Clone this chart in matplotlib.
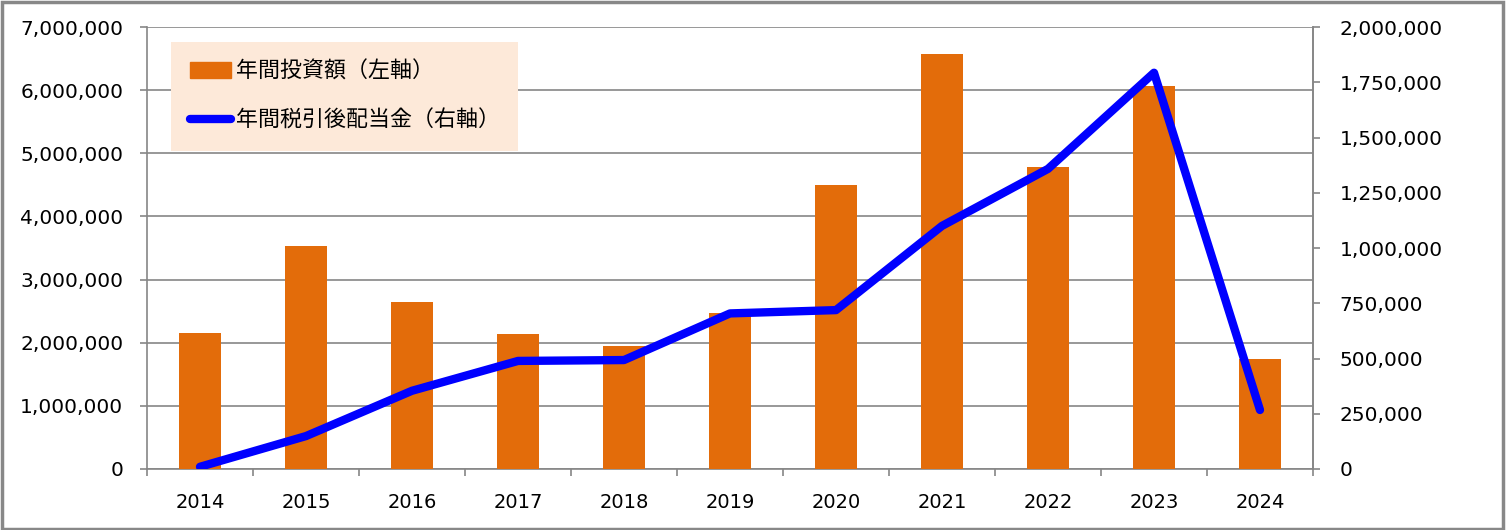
import numpy as np
import matplotlib
matplotlib.use('Agg')
import matplotlib.pyplot as plt
from matplotlib.ticker import FuncFormatter, MultipleLocator, FixedLocator
from matplotlib.patches import Rectangle
from matplotlib.lines import Line2D

plt.rcParams['font.family'] = ['DejaVu Sans', 'Noto Sans CJK JP']

years = ['2014', '2015', '2016', '2017', '2018', '2019', '2020', '2021', '2022', '2023', '2024']
invest = [2150000, 3530000, 2645000, 2140000, 1950000, 2470000, 4500000, 6570000, 4780000, 6070000, 1740000]
dividend = [10000, 149000, 354000, 489000, 493000, 704000, 719000, 1100000, 1358000, 1793000, 267000]
label_bar = '年間投資額（左軸）'
label_line = '年間税引後配当金（右軸）'

bar_color = '#E36C0A'
line_color = '#0000FF'
grid_color = '#868686'

def main():
    fig = plt.figure(figsize=(15.06, 5.30), dpi=100)
    ax = fig.add_axes([147 / 1506, 61 / 530, 1166 / 1506, 442 / 530])
    x = np.arange(len(years))

    ax.bar(x, invest, width=0.405, color=bar_color, zorder=3)
    ax.set_xlim(-0.5, len(years) - 0.5)
    ax.set_ylim(0, 7000000)
    ax.yaxis.set_major_locator(MultipleLocator(1000000))
    ax.yaxis.set_major_formatter(FuncFormatter(lambda v, p: '{:,.0f}'.format(v)))
    ax.grid(axis='y', color=grid_color, linewidth=1.2, zorder=0)
    ax.set_axisbelow(True)

    ax.set_xticks(x)
    ax.set_xticklabels(years)
    ax.xaxis.set_minor_locator(FixedLocator(np.arange(-0.5, len(years), 1.0)))
    ax.tick_params(axis='x', which='major', length=0, pad=17, labelsize=14)
    ax.tick_params(axis='x', which='minor', length=5, color=grid_color, width=1.2)
    ax.tick_params(axis='y', length=5, color=grid_color, width=1.2, labelsize=14.5, pad=12)

    for s in ['left', 'bottom', 'right']:
        ax.spines[s].set_color(grid_color)
        ax.spines[s].set_linewidth(1.2)
    ax.spines['top'].set_visible(False)

    ax2 = ax.twinx()
    ax2.plot(x, dividend, color=line_color, linewidth=6, solid_capstyle='round',
             solid_joinstyle='round', zorder=4)
    ax2.set_ylim(0, 2000000)
    ax2.yaxis.set_major_locator(MultipleLocator(250000))
    ax2.yaxis.set_major_formatter(FuncFormatter(lambda v, p: '{:,.0f}'.format(v)))
    ax2.tick_params(axis='y', length=5, color=grid_color, width=1.2, labelsize=14.5, pad=14)
    for s in ['left', 'bottom', 'top']:
        ax2.spines[s].set_visible(False)
    ax2.spines['right'].set_color(grid_color)
    ax2.spines['right'].set_linewidth(1.2)

    handles = [Rectangle((0, 0), 1, 1, color=bar_color),
               Line2D([0], [0], color=line_color, linewidth=6, solid_capstyle='round')]
    leg = ax2.legend(handles, [label_bar, label_line], loc='upper left',
                     bbox_to_anchor=(0.0206, 0.966), borderaxespad=0,
                     frameon=True, fancybox=False, framealpha=1,
                     facecolor='#FDE9D9', edgecolor='none',
                     prop={'family': ['Noto Sans CJK JP'], 'size': 15.8},
                     handlelength=1.9, handleheight=0.7, handletextpad=0.2,
                     labelspacing=1.25, borderpad=0.85)
    leg.set_zorder(10)

    fig.patches.append(Rectangle((0.001, 0.002), 0.997, 0.995, transform=fig.transFigure,
                                 fill=False, edgecolor='#888888', linewidth=2.5))

    fig.savefig('out.png', dpi=100)

if __name__ == '__main__':
    main()
